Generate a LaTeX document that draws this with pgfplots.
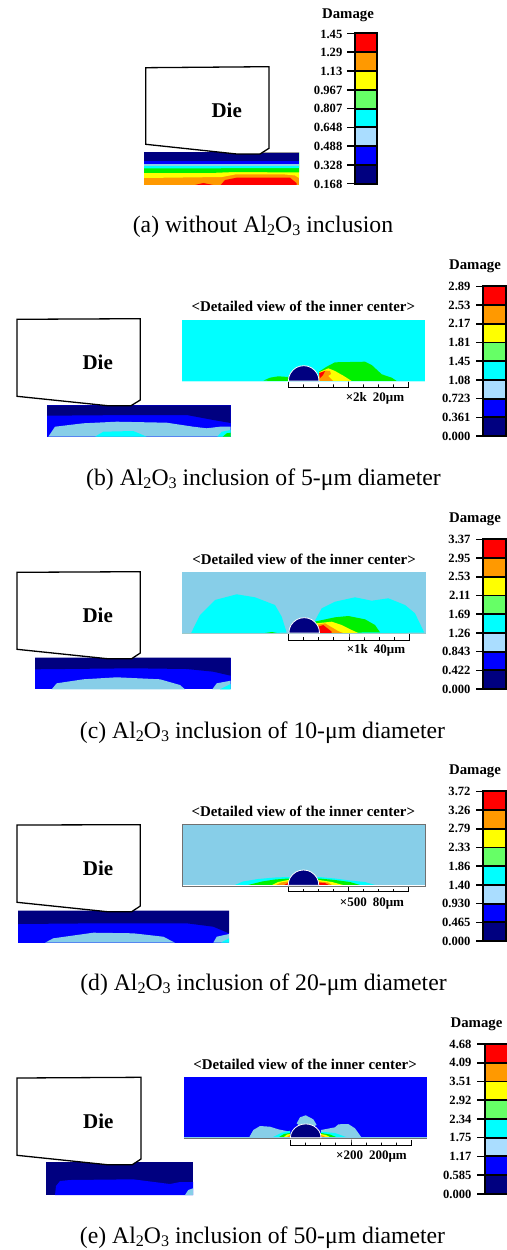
\documentclass[border=0pt]{standalone}
\usepackage{fontspec}
\setmainfont{Liberation Serif}
\usepackage{pgfplots}
\usepackage{pgfplotstable}
\pgfplotsset{compat=1.18}
\definecolor{cr}{HTML}{FF0000}
\definecolor{co}{HTML}{FF9900}
\definecolor{cy}{HTML}{FFFF00}
\definecolor{cg}{HTML}{00F000}
\definecolor{clg}{HTML}{66FF66}
\definecolor{cc}{HTML}{00FFFF}
\definecolor{cs}{HTML}{87CEE8}
\definecolor{cls}{HTML}{AADDFF}
\definecolor{cb}{HTML}{0000FF}
\definecolor{cn}{HTML}{000080}
\definecolor{cgray}{HTML}{707070}
\newcommand{\fs}[1]{\fontsize{#1bp}{#1bp}\selectfont}
\newcommand{\reg}[2]{\addplot[fill=#1,draw=none] coordinates {#2} --cycle;}
\newcommand{\lnn}[2]{\addplot[#1] coordinates {#2};}
\newcommand{\cell}[3]{\addplot[fill=#1,draw=black,line width=1.9bp] coordinates {(\cbL,#2)(\cbR,#2)(\cbR,#3)(\cbL,#3)} --cycle;
  \addplot[black,line width=1.5bp] coordinates {(\cbT,#2)(\cbL,#2)};}
\newcommand{\cbar}[9]{\cell{cr}{#1}{#2}\cell{co}{#2}{#3}\cell{cy}{#3}{#4}\cell{clg}{#4}{#5}\cell{cc}{#5}{#6}\cell{cls}{#6}{#7}\cell{cb}{#7}{#8}\cell{cn}{#8}{#9}\addplot[black,line width=1.5bp] coordinates {(\cbT,#9)(\cbL,#9)};}
\newcommand{\die}[1]{\addplot[fill=white,draw=black,line width=1.3bp] coordinates {#1} --cycle;}
\newcommand{\lb}[3]{\node[anchor=east,inner sep=0pt,font=\fs{12.6}\bfseries] at (axis cs:#1,#2) {#3};}
\newcommand{\dmg}[2]{\node[inner sep=0pt,font=\fs{14.8}\bfseries] at (axis cs:#1,#2) {Damage};}
\newcommand{\dietext}[2]{\node[inner sep=0pt,font=\fs{21}\bfseries] at (axis cs:#1,#2) {Die};}
\newcommand{\dtl}[2]{\node[inner sep=0pt,font=\fs{14.9}\bfseries] at (axis cs:#1,#2) {<Detailed view of the inner center>};}
\newcommand{\scl}[3]{\node[inner sep=0pt,font=\fs{13}\bfseries] at (axis cs:#1,#2) {#3};}
\newcommand{\cpt}[3]{\node[inner sep=0pt,font=\fs{23.7}] at (axis cs:#1,#2) {#3};}
\newcommand{\sbs}[1]{\raisebox{-.1em}{\scalebox{.68}{#1}}}
\newcommand{\AlO}{Al\sbs{2}O\sbs{3}}
\pgfplotstableread{
x y
15.3 0
14.8 4
13.3 7.65
10.8 10.8
7.65 13.3
4 14.8
0 15.3
-4 14.8
-7.65 13.3
-10.8 10.8
-13.3 7.65
-14.8 4
-15.3 0
}\semitbl
\begin{document}
\begin{tikzpicture}
\begin{axis}[
  scale only axis,width=507bp,height=1250bp,
  xmin=0,xmax=507,ymin=0,ymax=1250,y dir=reverse,
  hide axis]
\path (axis cs:0,0) -- (axis cs:507,1250);
% ---------- panel a
\reg{co}{(144,152.3)(299,152.3)(299,185)(144,185)}
\reg{cr}{(220.7,185)(225,180)(236.7,177.7)(290,177.7)(296.7,183.3)(296.7,185)}
\reg{cr}{(195,185)(203.3,183)(213.3,185)}
\reg{cy}{(144,152.3)(299,152.3)(299,178)(295,175.5)(285,174.5)(235,174.5)(222,177)(144,178)}
\reg{cg}{(144,152.3)(299,152.3)(299,172.5)(235,172)(210,173)(144,173)}
\reg{cc}{(144,152.3)(299,152.3)(299,168)(144,168.5)}
\reg{cs}{(144,152.3)(299,152.3)(299,166)(144,166)}
\reg{cb}{(144,152.3)(299,152.3)(299,164.5)(144,164.5)}
\reg{cn}{(144,152.3)(299,152.3)(299,161.5)(144,161.5)}
\lnn{color=cgray!70,line width=1bp}{(260,153)(299,153)}
\die{(145.7,67.7)(269,66.7)(269,148.3)(260,154)(236.7,154)(145.7,144.3)}
\def\cbL{355.3}\def\cbR{377}\def\cbT{347.3}
\cbar{33.3}{52.2}{71}{89.8}{108.6}{127.4}{146.2}{165}{183.7}
% ---------- panel b
\reg{cb}{(47,405.3)(230.7,405.3)(230.7,436.7)(47,436.7)}
\reg{cn}{(47,405.3)(230.7,405.3)(230.7,423)(213.3,420)(186.7,415)(133,415)(47,415.7)}
\reg{cs}{(48.3,436.7)(55,426.7)(83.3,423.3)(116.7,421.7)(166.7,422.7)(193.3,426.7)(206.7,428.3)(220,426.7)(230.7,426.7)(230.7,436.7)}
\reg{cc}{(95,436.7)(103.3,431.7)(133.3,431)(146.7,436.7)}
\reg{cc}{(217.3,436.7)(221.7,431.7)(230.7,430)(230.7,436.7)}
\reg{cg}{(222.7,436.7)(226.7,433.3)(230.7,432.7)(230.7,436.7)}
\die{(17,319.3)(140.3,318.7)(140.3,400)(131,405.7)(107.7,405.7)(17,396.3)}
\reg{cc}{(182,319.7)(425,319.7)(425,381.7)(182,381.7)}
\reg{cg}{(263.3,380.7)(270,377.7)(278.3,376.3)(288.3,377)(288.3,381)}
\reg{cg}{(319,371.7)(326.7,366.7)(335,362.3)(365,361.7)(371.7,365)(381.7,374.3)(391.7,377.7)(396.7,381)(319,381)}
\reg{cy}{(319,372.3)(328.3,368.3)(335,371)(343.3,375.7)(351.7,381)(319,381)}
\reg{co}{(319,374)(325,370.5)(330,371)(331,374)(328,376)(333,381)(319,381)}
\reg{cr}{(319,373)(325,371)(323,375)(320,378)}
\lnn{color=cc!30!white,line width=1.2bp}{(182,381.5)(425,381.5)}
\addplot[fill=cn,draw=white,line width=.8bp] table[x expr=\thisrow{x}+303.7,y expr=381-\thisrow{y}]{\semitbl} --cycle;
\lnn{black,line width=1bp}{(288.3,381.7)(288.3,387.3)(303.4,387.3)(303.4,384.3)(303.4,387.3)(318.4,387.3)(318.4,384.3)(318.4,387.3)(333.5,387.3)(333.5,384.3)(333.5,387.3)(348.6,387.3)(348.6,381.7)(348.6,387.3)(363.6,387.3)(363.6,384.3)(363.6,387.3)(378.7,387.3)(378.7,384.3)(378.7,387.3)(393.8,387.3)(393.8,384.3)(393.8,387.3)(408.8,387.3)(408.8,381.7)}
\def\cbL{482.7}\def\cbR{505.7}\def\cbT{476}
\cbar{286.3}{305}{323.8}{342.5}{361.2}{380}{398.7}{417.4}{436}
% ---------- panel c
\reg{cb}{(35,657.7)(230.7,657.7)(230.7,689.3)(35,689.3)}
\reg{cn}{(35,657.7)(230.7,657.7)(230.7,675.7)(213.3,671.7)(186.7,669)(133.3,668.3)(35,669.3)}
\reg{cs}{(51.7,689.3)(56.7,683.3)(83.3,679.3)(116.7,677.3)(160,679.3)(180,685)(185,689.3)}
\reg{cs}{(212.3,689.3)(216.7,683.3)(230.7,680.7)(230.7,689.3)}
\reg{cc}{(220,689.3)(230.7,684)(230.7,689.3)}
\die{(17,572.3)(140.3,571.7)(140.3,653)(131.7,658.7)(107.3,658.7)(17,649.3)}
\reg{cs}{(182.3,572)(425.7,572)(425.7,634)(182.3,634)}
\reg{cc}{(191,633.3)(200,615)(215,600)(236.7,594.3)(255,597.3)(275,605)(281.7,616.7)(286.7,632.7)}
\reg{cc}{(312,626)(321.7,608.3)(335,601.7)(355,597.3)(371.7,600.7)(388.3,598.3)(405,605)(415,613.3)(424.3,632.7)(312,633)}
\reg{cg}{(265,633)(272,632)(277,633)}
\reg{cg}{(314.3,621.7)(335,617.3)(348.3,616)(365,619.3)(375,625)(380,632.3)(314,633)}
\reg{cy}{(316.7,623.3)(331.7,621.7)(341.7,625)(351.7,630)(358.3,633)(316,633)}
\reg{co}{(316.7,625)(325,623.3)(338,631)(343,633)(316,633)}
\reg{cr}{(318.3,626.7)(323.3,625)(331.7,631.7)(331.7,633)(318.3,633)}
\lnn{color=cc!30!gray!60!white,line width=1.2bp}{(182.3,633.6)(425.7,633.6)}
\addplot[fill=cn,draw=white,line width=.8bp] table[x expr=\thisrow{x}+304.2,y expr=633-\thisrow{y}]{\semitbl} --cycle;
\lnn{black,line width=1bp}{(288.7,634)(288.7,640)(303.8,640)(303.8,637)(303.8,640)(318.8,640)(318.8,637)(318.8,640)(333.9,640)(333.9,637)(333.9,640)(349,640)(349,634)(349,640)(364,640)(364,637)(364,640)(379.1,640)(379.1,637)(379.1,640)(394.2,640)(394.2,637)(394.2,640)(409.3,640)(409.3,634)}
\def\cbL{482.7}\def\cbR{505.7}\def\cbT{476}
\cbar{539.3}{558}{576.8}{595.5}{614.2}{633}{651.7}{670.4}{689}
% ---------- panel d
\reg{cb}{(18,910.7)(229,910.7)(229,942.7)(18,942.7)}
\reg{cn}{(18,910.7)(229,910.7)(229,933.3)(213.3,926.7)(186.7,923.3)(100,923.3)(18,924)}
\reg{cs}{(45,942.7)(53.3,938.3)(93.3,932.7)(133.3,933.3)(163.3,936.7)(175,942.7)}
\reg{cs}{(213.3,942.7)(216.7,936.7)(229,934)(229,942.7)}
\reg{cc}{(220.7,942.7)(229,938.3)(229,942.7)}
\die{(17,825)(140.3,824.7)(140.3,906)(131.7,911.7)(107.3,911.7)(17,902.3)}
\addplot[fill=cs,draw=cgray,line width=.8bp] coordinates {(182.7,824.7)(425.7,824.7)(425.7,886)(182.7,886)} --cycle;
\reg{cc}{(235,885)(243,881.5)(258,879)(275,877.5)(288,877)(319,877)(335,878.5)(350,880.5)(365,882)(375,885)}
\reg{cg}{(248,885)(262,881.5)(275,879.5)(288,878.5)(319,878.5)(335,880)(350,882)(360,885)}
\reg{cy}{(272,885)(278,882)(288,880)(319,880)(332,882)(343,885)}
\reg{co}{(276,885)(281,882.5)(288,881.5)(319,881.5)(328,882.5)(332,885)}
\reg{cr}{(284,885)(288,883)(288,885)}
\reg{cr}{(318.3,882.5)(325,883)(329,885)(318.3,885)}
\lnn{white,line width=.8bp}{(183,885.3)(425,885.3)}
\addplot[fill=cn,draw=white,line width=.8bp] table[x expr=\thisrow{x}+303.5,y expr=885.3-\thisrow{y}]{\semitbl} --cycle;
\lnn{black,line width=1bp}{(288.3,887)(288.3,891.7)(303.4,891.7)(303.4,889)(303.4,891.7)(318.4,891.7)(318.4,889)(318.4,891.7)(333.5,891.7)(333.5,889)(333.5,891.7)(348.6,891.7)(348.6,887)(348.6,891.7)(363.6,891.7)(363.6,889)(363.6,891.7)(378.7,891.7)(378.7,889)(378.7,891.7)(393.8,891.7)(393.8,889)(393.8,891.7)(408.8,891.7)(408.8,887)}
\def\cbL{482.7}\def\cbR{505.7}\def\cbT{476}
\cbar{791.3}{810}{828.8}{847.5}{866.2}{885}{903.7}{922.4}{941}
% ---------- panel e
\reg{cn}{(46,1162.3)(193,1162.3)(193,1195)(46,1195)}
\reg{cb}{(55,1195)(56,1186)(60,1181)(70,1180)(133,1179.3)(170,1184)(180,1182)(193,1182)(193,1195)}
\reg{cs}{(185,1195)(188.3,1190)(193,1188.3)(193,1195)}
\die{(17,1078)(141,1077.3)(141,1159)(132.3,1164.7)(107.3,1164.7)(17,1155.3)}
\reg{cb}{(183.7,1077.3)(427.3,1077.3)(427.3,1138.7)(183.7,1138.7)}
\reg{cs}{(249,1137.7)(253.3,1130)(260,1126)(270,1126.7)(278.3,1129.3)(290,1131.7)(290,1137.7)}
\reg{cs}{(296.7,1123.3)(300,1117.3)(305.7,1115.3)(313.3,1119.3)(316.7,1125)(305,1130)}
\reg{cs}{(321,1130)(335,1127.3)(338.3,1124.3)(348.3,1124)(355,1128.3)(361.7,1137.7)(321,1137.7)}
\reg{cc}{(271.7,1137.7)(281.7,1132.7)(290,1130.7)(290,1137.7)}
\reg{cc}{(321,1131.7)(335,1133)(348,1137.7)(321,1137.7)}
\reg{cg}{(278,1137.7)(284,1134)(290,1133)(290,1137.7)}
\reg{cg}{(321,1133)(330,1134.5)(338,1137.7)(321,1137.7)}
\reg{cy}{(283,1137.7)(287,1134.5)(290,1134)(290,1137.7)}
\reg{cy}{(321,1134)(326,1135)(331,1137.7)(321,1137.7)}
\reg{co}{(286,1137.7)(290,1135)(290,1137.7)}
\reg{co}{(321,1135)(327,1137.7)(321,1137.7)}
\lnn{color=cs,line width=.9bp}{(183.7,1137.3)(427.3,1137.3)}
\lnn{color=cgray,line width=.9bp}{(183.7,1138.6)(427.3,1138.6)}
\addplot[fill=cn,draw=white,line width=.8bp] table[x expr=\thisrow{x}+305.7,y expr=1137.7-0.9*\thisrow{y}]{\semitbl} --cycle;
\lnn{black,line width=1bp}{(290.3,1139.7)(290.3,1145.3)(305.5,1145.3)(305.5,1142.5)(305.5,1145.3)(320.6,1145.3)(320.6,1142.5)(320.6,1145.3)(335.8,1145.3)(335.8,1142.5)(335.8,1145.3)(351,1145.3)(351,1139.7)(351,1145.3)(366.2,1145.3)(366.2,1142.5)(366.2,1145.3)(381.4,1145.3)(381.4,1142.5)(381.4,1145.3)(396.5,1145.3)(396.5,1142.5)(396.5,1145.3)(411.7,1145.3)(411.7,1139.7)}
\def\cbL{485}\def\cbR{508.5}\def\cbT{477}
\cbar{1044}{1062.8}{1081.5}{1100.2}{1119}{1137.7}{1156.4}{1175.2}{1194}
% ---------- text
\dmg{348}{15}\dietext{226.7}{110}
\lb{342.5}{34}{1.45}\lb{342.5}{52.5}{1.29}\lb{342.5}{71}{1.13}\lb{342.5}{90}{0.967}\lb{342.5}{108.7}{0.807}\lb{342.5}{127.5}{0.648}\lb{342.5}{146.3}{0.488}\lb{342.5}{165}{0.328}\lb{342.5}{184}{0.168}
\cpt{263}{227}{(a) without \AlO{} inclusion}
\dmg{475}{266}\dietext{97.7}{362.3}\dtl{303.3}{306.7}\scl{375}{398.3}{×2k\hspace{6bp}20μm}
\lb{470.7}{286.3}{2.89}\lb{470.7}{305}{2.53}\lb{470.7}{323.8}{2.17}\lb{470.7}{342.5}{1.81}\lb{470.7}{361.2}{1.45}\lb{470.7}{380}{1.08}\lb{470.7}{398.7}{0.723}\lb{470.7}{417.4}{0.361}\lb{470.7}{436}{0.000}
\cpt{263.5}{480}{(b) \AlO{} inclusion of 5-μm diameter}
\dmg{475}{519.5}\dietext{97.7}{615}\dtl{304}{559.7}\scl{376}{650}{×1k\hspace{6bp}40μm}
\lb{470.7}{539.3}{3.37}\lb{470.7}{558}{2.95}\lb{470.7}{576.8}{2.53}\lb{470.7}{595.5}{2.11}\lb{470.7}{614.2}{1.69}\lb{470.7}{633}{1.26}\lb{470.7}{651.7}{0.843}\lb{470.7}{670.4}{0.422}\lb{470.7}{689}{0.000}
\cpt{262.5}{733}{(c) \AlO{} inclusion of 10-μm diameter}
\dmg{475}{771}\dietext{98}{868.3}\dtl{303.3}{811.7}\scl{372}{904}{×500\hspace{6bp}80μm}
\lb{470.7}{791.3}{3.72}\lb{470.7}{810}{3.26}\lb{470.7}{828.8}{2.79}\lb{470.7}{847.5}{2.33}\lb{470.7}{866.2}{1.86}\lb{470.7}{885}{1.40}\lb{470.7}{903.7}{0.930}\lb{470.7}{922.4}{0.465}\lb{470.7}{941}{0.000}
\cpt{263.5}{985}{(d) \AlO{} inclusion of 20-μm diameter}
\dmg{476.5}{1024}\dietext{98.3}{1121.3}\dtl{305}{1064.3}\scl{371.5}{1157}{×200\hspace{6bp}200μm}
\lb{471.7}{1044}{4.68}\lb{471.7}{1062.8}{4.09}\lb{471.7}{1081.5}{3.51}\lb{471.7}{1100.2}{2.92}\lb{471.7}{1119}{2.34}\lb{471.7}{1137.7}{1.75}\lb{471.7}{1156.4}{1.17}\lb{471.7}{1175.2}{0.585}\lb{471.7}{1194}{0.000}
\cpt{262.5}{1238}{(e) \AlO{} inclusion of 50-μm diameter}
\end{axis}
\end{tikzpicture}
\end{document}
